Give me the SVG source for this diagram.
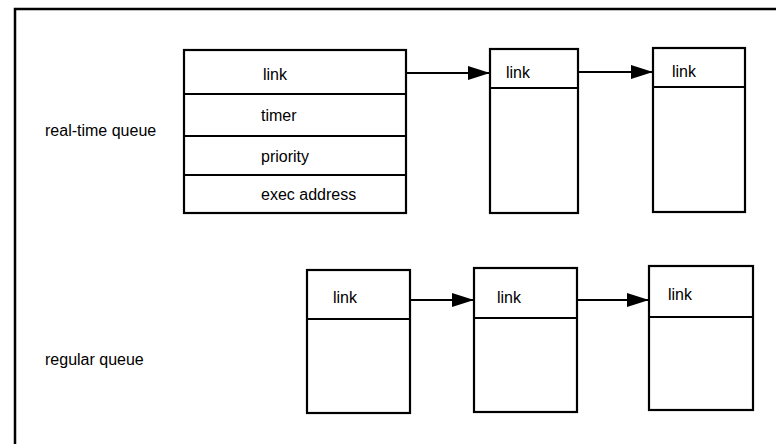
<svg xmlns="http://www.w3.org/2000/svg" width="776" height="444" viewBox="0 0 776 444">
<defs>
<style>
.box{fill:#fff;stroke:#000;stroke-width:2.2}
.ln{stroke:#000;stroke-width:2;fill:none}
.t{font-family:"Liberation Sans",Arial,sans-serif;font-size:16px;fill:#000}
.c{stroke:#000;stroke-width:2;fill:none;marker-end:url(#ah)}
</style>
<marker id="ah" viewBox="0 0 22 14" refX="22" refY="7" markerWidth="22" markerHeight="14" markerUnits="userSpaceOnUse" orient="auto">
<path d="M0,0 L22,7 L0,14 Z" fill="#000"/>
</marker>
</defs>
<rect width="776" height="444" fill="#fff"/>
<path d="M15,444 V9 H776" fill="none" stroke="#000" stroke-width="2.5"/>
<text class="t" x="45" y="136">real-time queue</text>
<text class="t" x="45" y="365">regular queue</text>
<g id="rt-head">
<rect class="box" x="184" y="50" width="222" height="163"/>
<line class="ln" x1="184" y1="94" x2="406" y2="94"/>
<line class="ln" x1="184" y1="136" x2="406" y2="136"/>
<line class="ln" x1="184" y1="175" x2="406" y2="175"/>
<text class="t" x="263" y="80">link</text>
<text class="t" x="261" y="121">timer</text>
<text class="t" x="261" y="162">priority</text>
<text class="t" x="261" y="200">exec address</text>
</g>
<g id="rt-2">
<rect class="box" x="490" y="49" width="88" height="164"/>
<line class="ln" x1="490" y1="88" x2="578" y2="88"/>
<text class="t" x="506" y="78">link</text>
</g>
<g id="rt-3">
<rect class="box" x="653" y="48" width="92" height="164"/>
<line class="ln" x1="653" y1="87" x2="745" y2="87"/>
<text class="t" x="672" y="77">link</text>
</g>
<g id="rq-1">
<rect class="box" x="307" y="270" width="103" height="143"/>
<line class="ln" x1="307" y1="319" x2="410" y2="319"/>
<text class="t" x="333" y="303">link</text>
</g>
<g id="rq-2">
<rect class="box" x="474" y="268" width="103" height="144"/>
<line class="ln" x1="474" y1="318" x2="577" y2="318"/>
<text class="t" x="497" y="303">link</text>
</g>
<g id="rq-3">
<rect class="box" x="649" y="266" width="104" height="144"/>
<line class="ln" x1="649" y1="317" x2="753" y2="317"/>
<text class="t" x="668" y="300">link</text>
</g>
<g id="connectors">
<line class="c" x1="407" y1="73" x2="490" y2="73"/>
<line class="c" x1="579" y1="72" x2="653" y2="72"/>
<line class="c" x1="411" y1="300" x2="474" y2="300"/>
<line class="c" x1="578" y1="300" x2="649" y2="300"/>
</g>
</svg>
